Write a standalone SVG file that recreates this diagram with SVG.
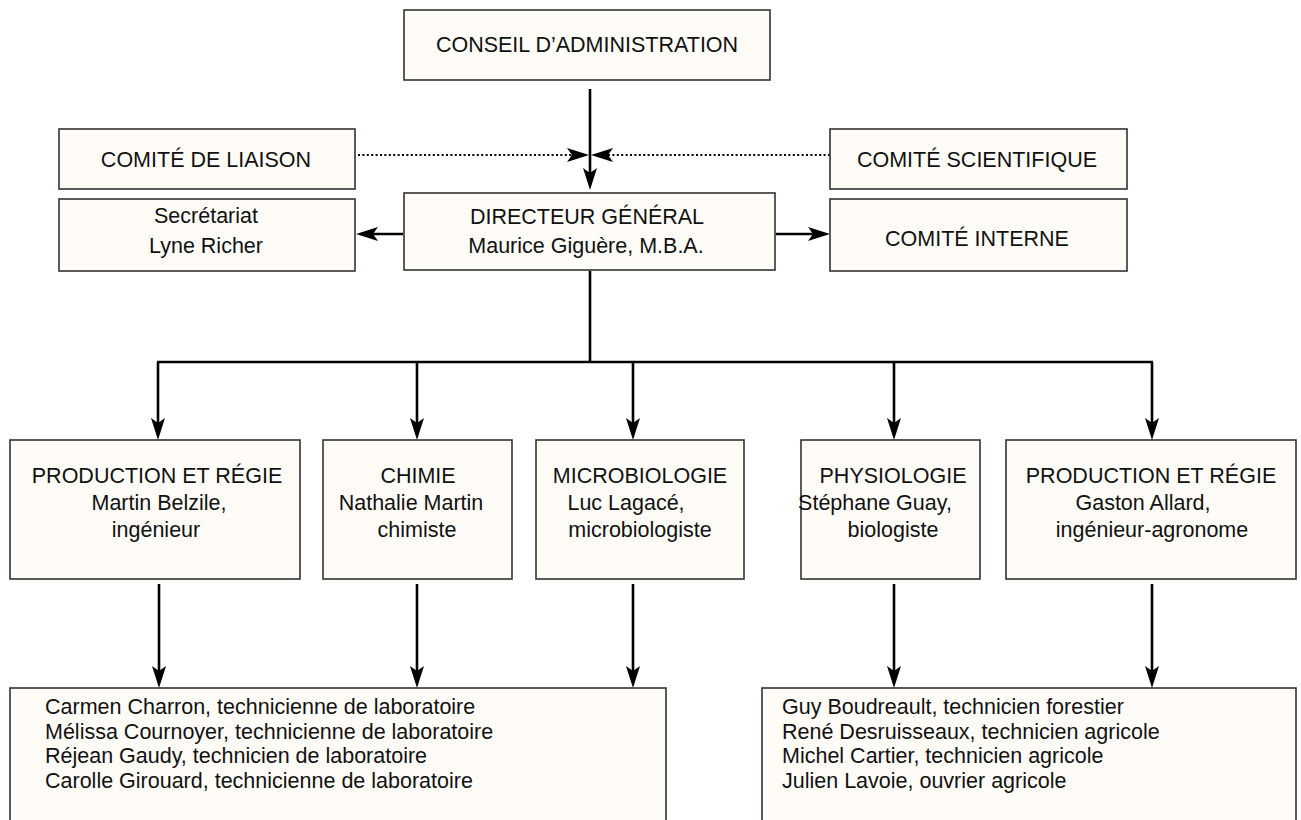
<svg xmlns="http://www.w3.org/2000/svg" width="1301" height="820" viewBox="0 0 1301 820">
<style>
.box{fill:#fffcf8;stroke:#333;stroke-width:1.6}
.t{font-family:"Liberation Sans",Arial,sans-serif;font-size:21.5px;fill:#111}
.c{text-anchor:middle}
.ln{fill:none;stroke:#000;stroke-width:2.6}
.dot{fill:none;stroke:#000;stroke-width:2;stroke-dasharray:2 2.4}
</style>
<defs>
<marker id="ah" viewBox="0 -8 22 16" markerWidth="22" markerHeight="16" refX="11" refY="0" orient="auto" markerUnits="userSpaceOnUse">
<path d="M0,-7 L22,0 L0,7 L5,0 Z" fill="#000"/>
</marker>
</defs>
<rect width="1301" height="820" fill="#fff"/>
<g id="connectors">
<path class="ln" d="M590,89 V179" marker-end="url(#ah)"/>
<path class="dot" d="M358,155 H578" marker-end="url(#ah)"/>
<path class="dot" d="M830,155 H602" marker-end="url(#ah)"/>
<path class="ln" d="M403,234 H367" marker-end="url(#ah)"/>
<path class="ln" d="M776,234 H819" marker-end="url(#ah)"/>
<path class="ln" d="M590,271 V362"/>
<path class="ln" d="M157,362 H1153"/>
<path class="ln" d="M158,362 V429" marker-end="url(#ah)"/>
<path class="ln" d="M417,362 V429" marker-end="url(#ah)"/>
<path class="ln" d="M633,362 V429" marker-end="url(#ah)"/>
<path class="ln" d="M894,362 V429" marker-end="url(#ah)"/>
<path class="ln" d="M1152,362 V429" marker-end="url(#ah)"/>
<path class="ln" d="M159,584 V677" marker-end="url(#ah)"/>
<path class="ln" d="M417,584 V677" marker-end="url(#ah)"/>
<path class="ln" d="M633,584 V677" marker-end="url(#ah)"/>
<path class="ln" d="M894,584 V677" marker-end="url(#ah)"/>
<path class="ln" d="M1152,584 V677" marker-end="url(#ah)"/>
</g>
<g id="conseil">
<rect class="box" x="404" y="10" width="366" height="70"/>
<text class="t c" x="587" y="52">CONSEIL D’ADMINISTRATION</text>
</g>
<g id="comite-liaison">
<rect class="box" x="59" y="129" width="296" height="60"/>
<text class="t c" x="206" y="167">COMITÉ DE LIAISON</text>
</g>
<g id="comite-scientifique">
<rect class="box" x="830" y="129" width="297" height="60"/>
<text class="t c" x="977" y="167">COMITÉ SCIENTIFIQUE</text>
</g>
<g id="secretariat">
<rect class="box" x="59" y="199" width="296" height="72"/>
<text class="t c" x="206" y="223">Secrétariat</text>
<text class="t c" x="206" y="253">Lyne Richer</text>
</g>
<g id="directeur">
<rect class="box" x="404" y="193" width="371" height="77"/>
<text class="t c" x="587" y="224">DIRECTEUR GÉNÉRAL</text>
<text class="t c" x="586" y="253">Maurice Giguère, M.B.A.</text>
</g>
<g id="comite-interne">
<rect class="box" x="830" y="199" width="297" height="72"/>
<text class="t c" x="977" y="246">COMITÉ INTERNE</text>
</g>
<g id="production1">
<rect class="box" x="10" y="440" width="290" height="139"/>
<text class="t c" x="157" y="483">PRODUCTION ET RÉGIE</text>
<text class="t c" x="159" y="510">Martin Belzile,</text>
<text class="t c" x="156" y="537">ingénieur</text>
</g>
<g id="chimie">
<rect class="box" x="323" y="440" width="189" height="139"/>
<text class="t c" x="418" y="483">CHIMIE</text>
<text class="t c" x="411" y="510">Nathalie Martin</text>
<text class="t c" x="417" y="537">chimiste</text>
</g>
<g id="microbiologie">
<rect class="box" x="536" y="440" width="208" height="139"/>
<text class="t c" x="640" y="483">MICROBIOLOGIE</text>
<text class="t c" x="626" y="510">Luc Lagacé,</text>
<text class="t c" x="640" y="537">microbiologiste</text>
</g>
<g id="physiologie">
<rect class="box" x="801" y="440" width="179" height="139"/>
<text class="t c" x="893" y="483">PHYSIOLOGIE</text>
<text class="t c" x="875" y="510">Stéphane Guay,</text>
<text class="t c" x="893" y="537">biologiste</text>
</g>
<g id="production2">
<rect class="box" x="1006" y="440" width="290" height="139"/>
<text class="t c" x="1151" y="483">PRODUCTION ET RÉGIE</text>
<text class="t c" x="1143" y="510">Gaston Allard,</text>
<text class="t c" x="1152" y="537">ingénieur-agronome</text>
</g>
<g id="techniciens-labo">
<rect class="box" x="10" y="688" width="656" height="160"/>
<text class="t" x="45" y="714">Carmen Charron, technicienne de laboratoire</text>
<text class="t" x="45" y="739">Mélissa Cournoyer, technicienne de laboratoire</text>
<text class="t" x="45" y="763">Réjean Gaudy, technicien de laboratoire</text>
<text class="t" x="45" y="788">Carolle Girouard, technicienne de laboratoire</text>
</g>
<g id="techniciens-agri">
<rect class="box" x="762" y="688" width="534" height="160"/>
<text class="t" x="782" y="714">Guy Boudreault, technicien forestier</text>
<text class="t" x="782" y="739">René Desruisseaux, technicien agricole</text>
<text class="t" x="782" y="763">Michel Cartier, technicien agricole</text>
<text class="t" x="782" y="788">Julien Lavoie, ouvrier agricole</text>
</g>
</svg>
